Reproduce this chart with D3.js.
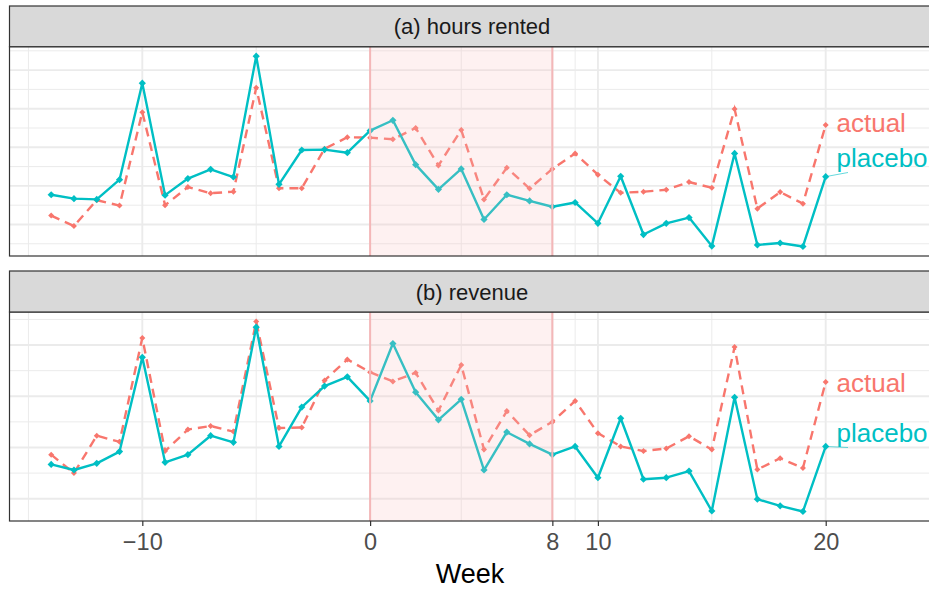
<!DOCTYPE html>
<html>
<head>
<meta charset="utf-8">
<script src="https://cdn.jsdelivr.net/npm/d3@7/dist/d3.min.js"></script>
<style>
  html, body { margin: 0; padding: 0; background: #fff; }
  svg { display: block; font-family: "Liberation Sans", Arial, Helvetica, sans-serif; }
</style>
</head>
<body>
<svg id="chart" width="929" height="591"></svg>
<script>
// Weekly series, week 0 = start of the treatment window
const weeks = [-14, -13, -12, -11, -10, -9, -8, -7, -6, -5, -4, -3, -2, -1, 0, 1, 2, 3, 4,
               5, 6, 7, 8, 9, 10, 11, 12, 13, 14, 15, 16, 17, 18, 19, 20];

const hoursActual = [1.23, 0.96, 1.63, 1.49, 3.91, 1.50, 1.97, 1.81, 1.85, 4.54, 1.94, 1.94,
                     2.96, 3.26, 3.25, 3.21, 3.50, 2.53, 3.45, 1.65, 2.47, 1.93, 2.44, 2.84,
                     2.29, 1.82, 1.85, 1.90, 2.10, 1.95, 3.99, 1.41, 1.84, 1.54, 3.58];
const hoursPlacebo = [1.77, 1.67, 1.65, 2.16, 4.66, 1.76, 2.19, 2.43, 2.23, 5.36, 2.04, 2.93,
                      2.94, 2.86, 3.43, 3.70, 2.55, 1.91, 2.44, 1.13, 1.77, 1.61, 1.46, 1.57,
                      1.03, 2.25, 0.74, 1.03, 1.18, 0.44, 2.84, 0.47, 0.52, 0.43, 2.24];

const revenueActual = [1.86, 1.50, 2.23, 2.11, 4.14, 1.93, 2.35, 2.42, 2.31, 4.46, 2.38, 2.39,
                       3.31, 3.72, 3.47, 3.29, 3.46, 2.72, 3.61, 1.96, 2.71, 2.24, 2.50, 2.91,
                       2.28, 2.02, 1.93, 1.98, 2.22, 1.96, 3.96, 1.57, 1.79, 1.60, 3.28];
const revenuePlacebo = [1.67, 1.56, 1.69, 1.92, 3.76, 1.71, 1.86, 2.23, 2.10, 4.35, 2.02, 2.79,
                        3.20, 3.38, 2.91, 4.03, 3.08, 2.54, 2.94, 1.56, 2.30, 2.07, 1.86, 2.02,
                        1.41, 2.57, 1.38, 1.41, 1.54, 0.76, 2.98, 0.99, 0.86, 0.75, 2.02];

const panelTitles = ["(a) hours rented", "(b) revenue"];
const seriesNames = ["actual", "placebo"];
const xTicks = [-10, 0, 8, 10, 20];
const xMinorTicks = [-15, -5, 4, 9, 15];
const treatWindow = [0, 8];
const xDomain = [-15.83, 24.6];

const colActual = "#F8766D";
const colPlacebo = "#00BFC4";

const svg = d3.select("#chart");
const left = 9.5, right = 930.5;

const x = d3.scaleLinear().domain(xDomain).range([left, right]);

const panels = [
  { title: panelTitles[0], actual: hoursActual, placebo: hoursPlacebo,
    stripTop: 6, top: 46.7, bottom: 256,
    labelY: { actual: 132.3, placebo: 166.5 } },
  { title: panelTitles[1], actual: revenueActual, placebo: revenuePlacebo,
    stripTop: 271, top: 312, bottom: 521,
    labelY: { actual: 392.3, placebo: 441.5 } }
];

// clip so the panel content stays inside the frame
const defs = svg.append("defs");

panels.forEach((p, i) => {
  const all = p.actual.concat(p.placebo);
  const [lo, hi] = d3.extent(all);
  const pad = (hi - lo) * 0.05;
  const y = d3.scaleLinear().domain([lo - pad, hi + pad]).range([p.bottom, p.top]);

  defs.append("clipPath").attr("id", "clip" + i)
    .append("rect").attr("x", left).attr("y", p.top)
    .attr("width", right - left).attr("height", p.bottom - p.top);

  const g = svg.append("g");
  const body = g.append("g").attr("clip-path", `url(#clip${i})`);

  body.append("rect").attr("x", left).attr("y", p.top)
    .attr("width", right - left).attr("height", p.bottom - p.top).attr("fill", "#fff");

  // grid: minor then major
  const majorY = y.ticks(5);
  const step = majorY[1] - majorY[0];
  const minorY = majorY.map(v => v - step / 2).concat([majorY[majorY.length - 1] + step / 2])
    .filter(v => v > y.domain()[0] && v < y.domain()[1]);

  body.selectAll(".minorY").data(minorY).enter().append("line")
    .attr("x1", left).attr("x2", right)
    .attr("y1", d => y(d)).attr("y2", d => y(d))
    .attr("stroke", "#EBEBEB").attr("stroke-width", 1);
  body.selectAll(".minorX").data(xMinorTicks).enter().append("line")
    .attr("x1", d => x(d)).attr("x2", d => x(d))
    .attr("y1", p.top).attr("y2", p.bottom)
    .attr("stroke", "#EBEBEB").attr("stroke-width", 1);
  body.selectAll(".majorY").data(majorY).enter().append("line")
    .attr("x1", left).attr("x2", right)
    .attr("y1", d => y(d)).attr("y2", d => y(d))
    .attr("stroke", "#EBEBEB").attr("stroke-width", 1.9);
  body.selectAll(".majorX").data(xTicks).enter().append("line")
    .attr("x1", d => x(d)).attr("x2", d => x(d))
    .attr("y1", p.top).attr("y2", p.bottom)
    .attr("stroke", "#EBEBEB").attr("stroke-width", 1.9);

  const line = d3.line().x((d, k) => x(weeks[k])).y(d => y(d));

  // actual: dashed red
  body.append("path").datum(p.actual)
    .attr("d", line).attr("fill", "none")
    .attr("stroke", colActual).attr("stroke-width", 2.4)
    .attr("stroke-dasharray", "9,6");
  const diamond = d3.symbol().type(d3.symbolSquare);
  body.selectAll(".ptA").data(p.actual).enter().append("path")
    .attr("d", diamond.size(18))
    .attr("transform", (d, k) => `translate(${x(weeks[k])},${y(d)}) rotate(45)`)
    .attr("fill", colActual);

  // placebo: solid teal
  body.append("path").datum(p.placebo)
    .attr("d", line).attr("fill", "none")
    .attr("stroke", colPlacebo).attr("stroke-width", 2.4)
    .attr("stroke-linejoin", "round");
  body.selectAll(".ptP").data(p.placebo).enter().append("path")
    .attr("d", diamond.size(26))
    .attr("transform", (d, k) => `translate(${x(weeks[k])},${y(d)}) rotate(45)`)
    .attr("fill", colPlacebo);

  // treatment window overlay
  body.append("rect")
    .attr("x", x(treatWindow[0])).attr("y", p.top)
    .attr("width", x(treatWindow[1]) - x(treatWindow[0]))
    .attr("height", p.bottom - p.top)
    .attr("fill", "rgb(250,190,190)").attr("fill-opacity", 0.22);
  body.selectAll(".win").data(treatWindow).enter().append("line")
    .attr("x1", d => x(d)).attr("x2", d => x(d))
    .attr("y1", p.top).attr("y2", p.bottom)
    .attr("stroke", "#F4B7B8").attr("stroke-width", 2);

  // end-of-series labels with a short leader for placebo
  const last = weeks.length - 1;
  body.append("line")
    .attr("x1", x(weeks[last])).attr("y1", y(p.placebo[last]))
    .attr("x2", x(weeks[last]) + 22.3).attr("y2", p.labelY.placebo + 6)
    .attr("stroke", colPlacebo).attr("stroke-width", 0.6);
  body.append("text").attr("x", 836.5).attr("y", p.labelY.actual)
    .attr("fill", colActual).attr("font-size", 26).text(seriesNames[0]);
  body.append("text").attr("x", 836.5).attr("y", p.labelY.placebo)
    .attr("fill", colPlacebo).attr("font-size", 26).text(seriesNames[1]);

  // frame
  g.append("rect").attr("x", left).attr("y", p.top)
    .attr("width", right - left + 5).attr("height", p.bottom - p.top)
    .attr("fill", "none").attr("stroke", "#333333").attr("stroke-width", 1.2);

  // strip
  g.append("rect").attr("x", left).attr("y", p.stripTop)
    .attr("width", right - left + 5).attr("height", p.top - p.stripTop)
    .attr("fill", "#D9D9D9").attr("stroke", "#333333").attr("stroke-width", 1.2);
  g.append("text").attr("x", (left + right) / 2 + 2).attr("y", p.stripTop + (p.top - p.stripTop) / 2 + 8)
    .attr("text-anchor", "middle").attr("fill", "#1A1A1A").attr("font-size", 22)
    .text(p.title);
});

// bottom x axis
const bottom = panels[1].bottom;
const axis = d3.axisBottom(x).tickValues(xTicks).tickSize(5).tickPadding(7)
  .tickFormat(d => d < 0 ? "\u2212" + Math.abs(d) : String(d));
const ax = svg.append("g").attr("transform", `translate(0,${bottom})`).call(axis);
ax.select(".domain").remove();
ax.selectAll(".tick line").attr("stroke", "#333333").attr("stroke-width", 1.2);
ax.selectAll(".tick text").attr("fill", "#4D4D4D").attr("font-size", 23.5)
  .attr("font-family", "'Liberation Sans', Arial, Helvetica, sans-serif");

svg.append("text").attr("x", (left + right) / 2).attr("y", 583.3)
  .attr("text-anchor", "middle").attr("fill", "#000").attr("font-size", 27)
  .text("Week");
</script>
</body>
</html>
